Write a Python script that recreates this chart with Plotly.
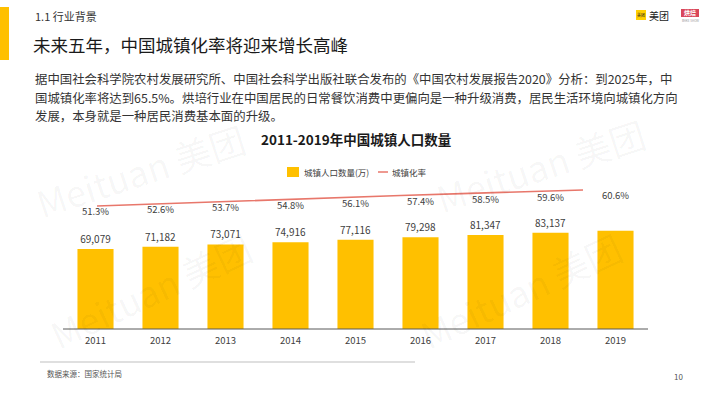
import plotly.graph_objects as go

years = ["2011", "2012", "2013", "2014", "2015", "2016", "2017", "2018", "2019"]
urban_pop = [69079, 71182, 73071, 74916, 77116, 79298, 81347, 83137, 84843]
pop_labels = ["69,079", "71,182", "73,071", "74,916", "77,116", "79,298", "81,347", "83,137", ""]
urban_rate = [51.3, 52.6, 53.7, 54.8, 56.1, 57.4, 58.5, 59.6, 60.6]
rate_labels = ["51.3%", "52.6%", "53.7%", "54.8%", "56.1%", "57.4%", "58.5%", "59.6%", "60.6%"]
legend_names = ["城镇人口数量(万)", "城镇化率"]

W, H = 710, 399
FONT = "Noto Sans CJK SC"
YELLOW = "#FFC000"
LINE_RED = "#E8776B"

def px(x):
    return x / W

def py(y):
    return 1 - y / H

# plot area in pixels
X0, X1 = 63, 648
YB, YT = 329, 180
ymax = (YB - YT) / 0.001157

fig = go.Figure()

fig.add_trace(go.Bar(
    x=years, y=urban_pop, name=legend_names[0],
    marker=dict(color=YELLOW, line=dict(width=0)),
    text=pop_labels, textposition="outside",
    textfont=dict(size=10, color="#404040", family=FONT),
    cliponaxis=False, xaxis="x", yaxis="y", showlegend=False,
))

# urbanization line on its own axes
fig.add_trace(go.Scatter(
    x=list(range(len(years))), y=urban_rate, name=legend_names[1],
    mode="lines", line=dict(color=LINE_RED, width=1.6),
    xaxis="x2", yaxis="y2", showlegend=False,
))

# percentage labels at bar centres
fig.add_trace(go.Scatter(
    x=years, y=urban_rate, mode="text", text=rate_labels,
    textposition="middle center", showlegend=False,
    textfont=dict(size=9.5, color="#404040", family=FONT),
    xaxis="x", yaxis="y3", cliponaxis=False,
))

# line y mapping: 51.3 -> 206px, 60.6 -> 190px
s_line = (206 - 190) / (60.6 - 51.3)
y2_lo = 51.3 - (YB - 206) / s_line
y2_hi = 51.3 + (206 - YT) / s_line
# label mapping: 51.3 -> 213px, 60.6 -> 197px
s_lab = (213 - 197) / (60.6 - 51.3)
y3_lo = 51.3 - (YB - 213) / s_lab
y3_hi = 51.3 + (213 - YT) / s_lab

dom_x = [px(X0), px(X1)]
dom_y = [py(YB), py(YT)]
# line x mapping: index 0 -> 97px, index 8 -> 583px
lx0, lx8 = 97, 583
step = (lx8 - lx0) / 8
x2_lo = -(lx0 - X0) / step
x2_hi = 8 + (X1 - lx8) / step

annotations = [
    dict(text="1.1 行业背景", x=px(33), y=py(16), xref="paper", yref="paper",
         xanchor="left", yanchor="middle", showarrow=False,
         font=dict(size=11, color="#333333", family=FONT)),
    dict(text="未来五年，中国城镇化率将迎来增长高峰", x=px(31), y=py(44), xref="paper", yref="paper",
         xanchor="left", yanchor="middle", showarrow=False,
         font=dict(size=17.5, color="#1a1a1a", family=FONT)),
    dict(text="据中国社会科学院农村发展研究所、中国社会科学出版社联合发布的《中国农村发展报告2020》分析：到2025年，中",
         x=px(33), y=py(79), xref="paper", yref="paper", xanchor="left", yanchor="middle",
         showarrow=False, font=dict(size=12.4, color="#333333", family=FONT)),
    dict(text="国城镇化率将达到65.5%。烘培行业在中国居民的日常餐饮消费中更偏向是一种升级消费，居民生活环境向城镇化方向",
         x=px(33), y=py(98), xref="paper", yref="paper", xanchor="left", yanchor="middle",
         showarrow=False, font=dict(size=12.4, color="#333333", family=FONT)),
    dict(text="发展，本身就是一种居民消费基本面的升级。",
         x=px(33), y=py(116), xref="paper", yref="paper", xanchor="left", yanchor="middle",
         showarrow=False, font=dict(size=12.4, color="#333333", family=FONT)),
    dict(text="<b>2011-2019年中国城镇人口数量</b>", x=px(356), y=py(139), xref="paper", yref="paper",
         xanchor="center", yanchor="middle", showarrow=False,
         font=dict(size=13.5, color="#1a1a1a", family=FONT)),
    # manual legend
    dict(text=legend_names[0], x=px(302), y=py(172), xref="paper", yref="paper",
         xanchor="left", yanchor="middle", showarrow=False,
         font=dict(size=8.5, color="#404040", family=FONT)),
    dict(text=legend_names[1], x=px(390), y=py(172), xref="paper", yref="paper",
         xanchor="left", yanchor="middle", showarrow=False,
         font=dict(size=8.5, color="#404040", family=FONT)),
    dict(text="数据来源：国家统计局", x=px(45), y=py(373), xref="paper", yref="paper",
         xanchor="left", yanchor="middle", showarrow=False,
         font=dict(size=7.5, color="#555555", family=FONT)),
    dict(text="10", x=px(678), y=py(376), xref="paper", yref="paper",
         xanchor="center", yanchor="middle", showarrow=False,
         font=dict(size=8, color="#555555", family=FONT)),
    # logos
    dict(text="美团", x=px(641), y=py(15), xref="paper", yref="paper",
         xanchor="center", yanchor="middle", showarrow=False,
         font=dict(size=4, color="#222222", family=FONT)),
    dict(text="美团", x=px(647), y=py(15), xref="paper", yref="paper",
         xanchor="left", yanchor="middle", showarrow=False,
         font=dict(size=10, color="#222222", family=FONT)),
    dict(text="<b>烘焙</b>", x=px(690), y=py(13), xref="paper", yref="paper",
         xanchor="center", yanchor="middle", showarrow=False,
         font=dict(size=6, color="white", family=FONT)),
    dict(text="BAKE SHOW", x=px(690), y=py(21), xref="paper", yref="paper",
         xanchor="center", yanchor="middle", showarrow=False,
         font=dict(size=3, color="#999999", family=FONT)),
]

# watermarks
for (wx, wy, ang) in [(140, 170, -18), (540, 165, -18), (150, 290, -25), (520, 290, -25)]:
    annotations.append(dict(text="Meituan 美团", x=px(wx), y=py(wy), xref="paper", yref="paper",
                            xanchor="center", yanchor="middle", showarrow=False, textangle=ang,
                            font=dict(size=36, color="rgba(0,0,0,0.04)", family=FONT)))

shapes = [
    dict(type="rect", xref="paper", yref="paper", x0=0, x1=px(9), y0=py(60), y1=py(7),
         fillcolor=YELLOW, line=dict(width=0)),
    dict(type="line", xref="paper", yref="paper", x0=px(40), x1=px(415), y0=py(362), y1=py(362),
         line=dict(color="#bfbfbf", width=1)),
    dict(type="line", xref="paper", yref="paper", x0=px(X0), x1=px(X1), y0=py(YB), y1=py(YB),
         line=dict(color="#595959", width=1)),
    # legend symbols
    dict(type="rect", xref="paper", yref="paper", x0=px(287), x1=px(299), y0=py(177), y1=py(167),
         fillcolor=YELLOW, line=dict(width=0)),
    dict(type="line", xref="paper", yref="paper", x0=px(378), x1=px(388), y0=py(172), y1=py(172),
         line=dict(color=LINE_RED, width=1.5)),
    # logos
    dict(type="rect", xref="paper", yref="paper", x0=px(636), x1=px(646), y0=py(20), y1=py(10),
         fillcolor="#FFD000", line=dict(width=0)),
    dict(type="rect", xref="paper", yref="paper", x0=px(681), x1=px(699), y0=py(17), y1=py(9),
         fillcolor="#D9465A", line=dict(width=0)),
]

fig.update_layout(
    width=W, height=H, autosize=False,
    margin=dict(l=0, r=0, t=0, b=0),
    paper_bgcolor="white", plot_bgcolor="rgba(0,0,0,0)",
    font=dict(family=FONT),
    bargap=0.445,
    showlegend=False,
    xaxis=dict(domain=dom_x, type="category", showgrid=False, zeroline=False, showline=False,
               ticks="", tickfont=dict(size=9.5, color="#404040", family=FONT), ticklabelstandoff=4,
               anchor="y"),
    yaxis=dict(domain=dom_y, range=[0, ymax], visible=False, showgrid=False, zeroline=False),
    xaxis2=dict(domain=dom_x, range=[x2_lo, x2_hi], overlaying="x", visible=False, anchor="y2"),
    yaxis2=dict(domain=dom_y, range=[y2_lo, y2_hi], overlaying="y", visible=False, anchor="x2"),
    yaxis3=dict(domain=dom_y, range=[y3_lo, y3_hi], overlaying="y", visible=False, anchor="x"),
    annotations=annotations,
    shapes=shapes,
)

fig.write_html("out.html", config={"displayModeBar": False},
               post_script="document.body.style.margin='0';")
